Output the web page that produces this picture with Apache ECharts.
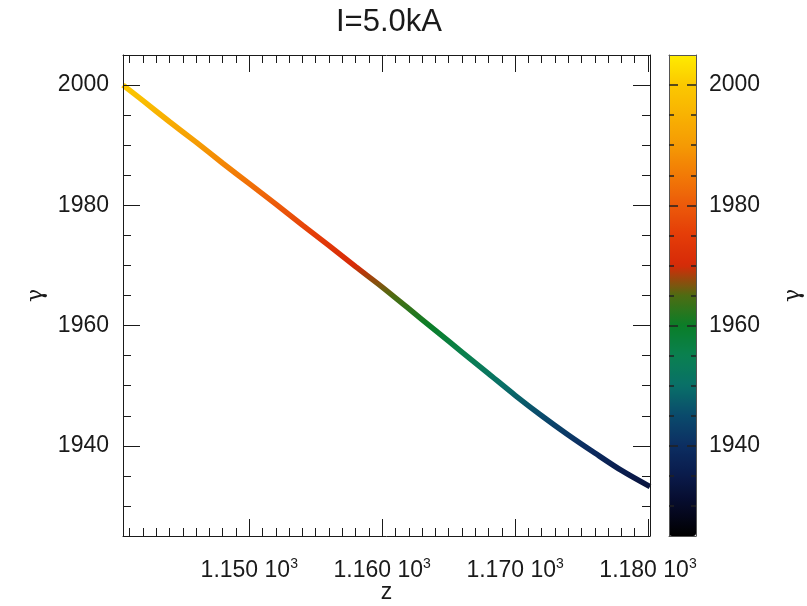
<!DOCTYPE html>
<html><head><meta charset="utf-8">
<script src="https://cdn.jsdelivr.net/npm/echarts@6/dist/echarts.min.js"></script>
<style>html,body{margin:0;padding:0;background:#fff}#c{width:807px;height:606px}</style>
</head><body><div id="c"></div>
<script>
// ---- data ----
const zValues = [1140.5, 1142, 1144, 1146, 1148, 1150, 1152, 1154, 1156, 1158, 1160, 1162, 1164, 1166, 1168, 1170, 1172, 1174, 1176, 1178, 1180.15];
const gammaValues = [2000.0, 1997.4, 1993.9, 1990.5, 1987.0, 1983.6, 1980.2, 1976.7, 1973.3, 1969.8, 1966.4, 1962.8, 1959.2, 1955.6, 1952.0, 1948.4, 1945.0, 1941.8, 1938.8, 1935.9, 1933.2];
const xMajorTicks = [1150, 1160, 1170, 1180];
const xMinorTicks = [1141, 1142, 1143, 1144, 1145, 1146, 1147, 1148, 1149, 1151, 1152, 1153, 1154, 1155, 1156, 1157, 1158, 1159, 1161, 1162, 1163, 1164, 1165, 1166, 1167, 1168, 1169, 1171, 1172, 1173, 1174, 1175, 1176, 1177, 1178, 1179];
const yMajorTicks = [1940, 1960, 1980, 2000];
const yMinorTicks = [1930, 1935, 1945, 1950, 1955, 1965, 1970, 1975, 1985, 1990, 1995];
const colorScale = ['#000000', '#060a28', '#0a1a4a', '#0c2e62', '#0a4a6c', '#097068', '#0a8050', '#0a7e28', '#4e6c12', '#d62a08', '#e43c08', '#ec5a0a', '#f27a06', '#f59a04', '#f8b202', '#fbc800', '#ffec00'];
const titleText = 'I=5.0kA';
const xName = 'z';
const yName = '\u03b3';
const cbarName = '\u03b3';
const X_MIN = 1140.5, X_MAX = 1180.15, Y_MIN = 1925, Y_MAX = 2005;

const FONT = 'Liberation Sans';
const INK = '#1a1a1a';

function xAx(o) {
  return Object.assign({
    type: 'value', gridIndex: 0, min: X_MIN, max: X_MAX, splitLine: {show: false},
    axisLine: {show: false, onZero: false}, axisLabel: {show: false}, axisTick: {show: false}, z: 10
  }, o);
}
function yAx(o) {
  return Object.assign({
    type: 'value', gridIndex: 0, min: Y_MIN, max: Y_MAX, splitLine: {show: false},
    axisLine: {show: false, onZero: false}, axisLabel: {show: false}, axisTick: {show: false}, z: 10
  }, o);
}
const lineSt = {show: true, onZero: false, lineStyle: {color: INK, width: 1}};
const majT = len => ({show: true, inside: true, length: len, lineStyle: {color: INK, width: 1}});
const plainNum = v => String(v);

const chart = echarts.init(document.getElementById('c'), null, {renderer: 'canvas'});
chart.setOption({
  animation: false,
  backgroundColor: '#ffffff',
  title: {text: titleText, left: 331, top: 2,
    textStyle: {fontFamily: FONT, fontSize: 31, fontWeight: 'normal', color: INK}},
  grid: [
    {left: 123, top: 55, width: 527, height: 481, outerBoundsMode: 'none', containLabel: false},
    {left: 669, top: 55, width: 27, height: 481, outerBoundsMode: 'none', containLabel: false}
  ],
  xAxis: [
    xAx({position: 'bottom', axisLine: lineSt,
      axisTick: Object.assign(majT(17), {customValues: xMajorTicks}),
      axisLabel: {show: true, customValues: xMajorTicks, margin: 21,
        formatter: v => '{a|' + (v / 1000).toFixed(3) + ' 10}{s|3}',
        rich: {
          a: {fontFamily: FONT, fontSize: 23, color: INK, lineHeight: 28},
          s: {fontFamily: FONT, fontSize: 14, color: INK, lineHeight: 14, verticalAlign: 'top'}
        }},
      name: xName, nameLocation: 'middle', nameGap: 45, nameMoveOverlap: false,
      nameTextStyle: {fontFamily: FONT, fontSize: 23, color: INK}}),
    xAx({position: 'bottom', axisTick: Object.assign(majT(8), {customValues: xMinorTicks})}),
    xAx({position: 'top', axisLine: lineSt, axisTick: Object.assign(majT(17), {customValues: xMajorTicks})}),
    xAx({position: 'top', axisTick: Object.assign(majT(8), {customValues: xMinorTicks})}),
    {type: 'value', gridIndex: 1, min: 0, max: 1, position: 'bottom', axisLine: {show: true, onZero: false, lineStyle: {color: '#555', width: 1}}, axisTick: {show: false}, axisLabel: {show: false}, splitLine: {show: false}, z: 10},
    {type: 'value', gridIndex: 1, min: 0, max: 1, position: 'top', axisLine: {show: true, onZero: false, lineStyle: {color: '#555', width: 1}}, axisTick: {show: false}, axisLabel: {show: false}, splitLine: {show: false}, z: 10}
  ],
  yAxis: [
    yAx({position: 'left', axisLine: lineSt,
      axisTick: Object.assign(majT(17), {customValues: yMajorTicks}),
      axisLabel: {show: true, customValues: yMajorTicks, margin: 14, formatter: plainNum,
        fontFamily: FONT, fontSize: 23, color: INK},
      name: yName, nameLocation: 'middle', nameGap: 76,
      nameTextStyle: {fontFamily: 'DejaVu Serif', fontSize: 22, color: INK}}),
    yAx({position: 'left', axisTick: Object.assign(majT(8), {customValues: yMinorTicks})}),
    yAx({position: 'right', axisLine: lineSt, axisTick: Object.assign(majT(17), {customValues: yMajorTicks})}),
    yAx({position: 'right', axisTick: Object.assign(majT(8), {customValues: yMinorTicks})}),
    // colour bar axes
    yAx({gridIndex: 1, position: 'left', axisLine: {show: true, onZero: false, lineStyle: {color: '#555', width: 1}},
      axisTick: {show: true, inside: true, length: 5, customValues: yMinorTicks, lineStyle: {color: '#222', width: 1.5}}}),
    yAx({gridIndex: 1, position: 'left', axisTick: {show: true, inside: true, length: 9, customValues: yMajorTicks, lineStyle: {color: '#222', width: 1.5}}}),
    yAx({gridIndex: 1, position: 'right', axisTick: {show: true, inside: true, length: 5, customValues: yMinorTicks, lineStyle: {color: '#222', width: 1.5}}}),
    yAx({gridIndex: 1, position: 'right', axisLine: {show: true, onZero: false, lineStyle: {color: '#555', width: 1}},
      axisTick: {show: true, inside: true, length: 9, customValues: yMajorTicks, lineStyle: {color: '#222', width: 1.5}},
      axisLabel: {show: true, customValues: yMajorTicks, margin: 13, formatter: plainNum, fontFamily: FONT, fontSize: 23, color: INK},
      name: cbarName, nameLocation: 'middle', nameGap: 86,
      nameTextStyle: {fontFamily: 'DejaVu Serif', fontSize: 22, color: INK}})
  ],
  visualMap: {
    type: 'continuous', min: Y_MIN, max: Y_MAX, dimension: 1, seriesIndex: 0,
    inRange: {color: colorScale}, show: true, calculable: false, hoverLink: false,
    left: 664, top: 50, padding: 5, itemWidth: 27, itemHeight: 481, z: 2
  },
  series: [{
    type: 'line', xAxisIndex: 0, yAxisIndex: 0, showSymbol: false, smooth: 0.3,
    lineStyle: {width: 5.5}, z: 3,
    data: zValues.map((z, i) => [z, gammaValues[i]])
  }]
});
</script></body></html>
